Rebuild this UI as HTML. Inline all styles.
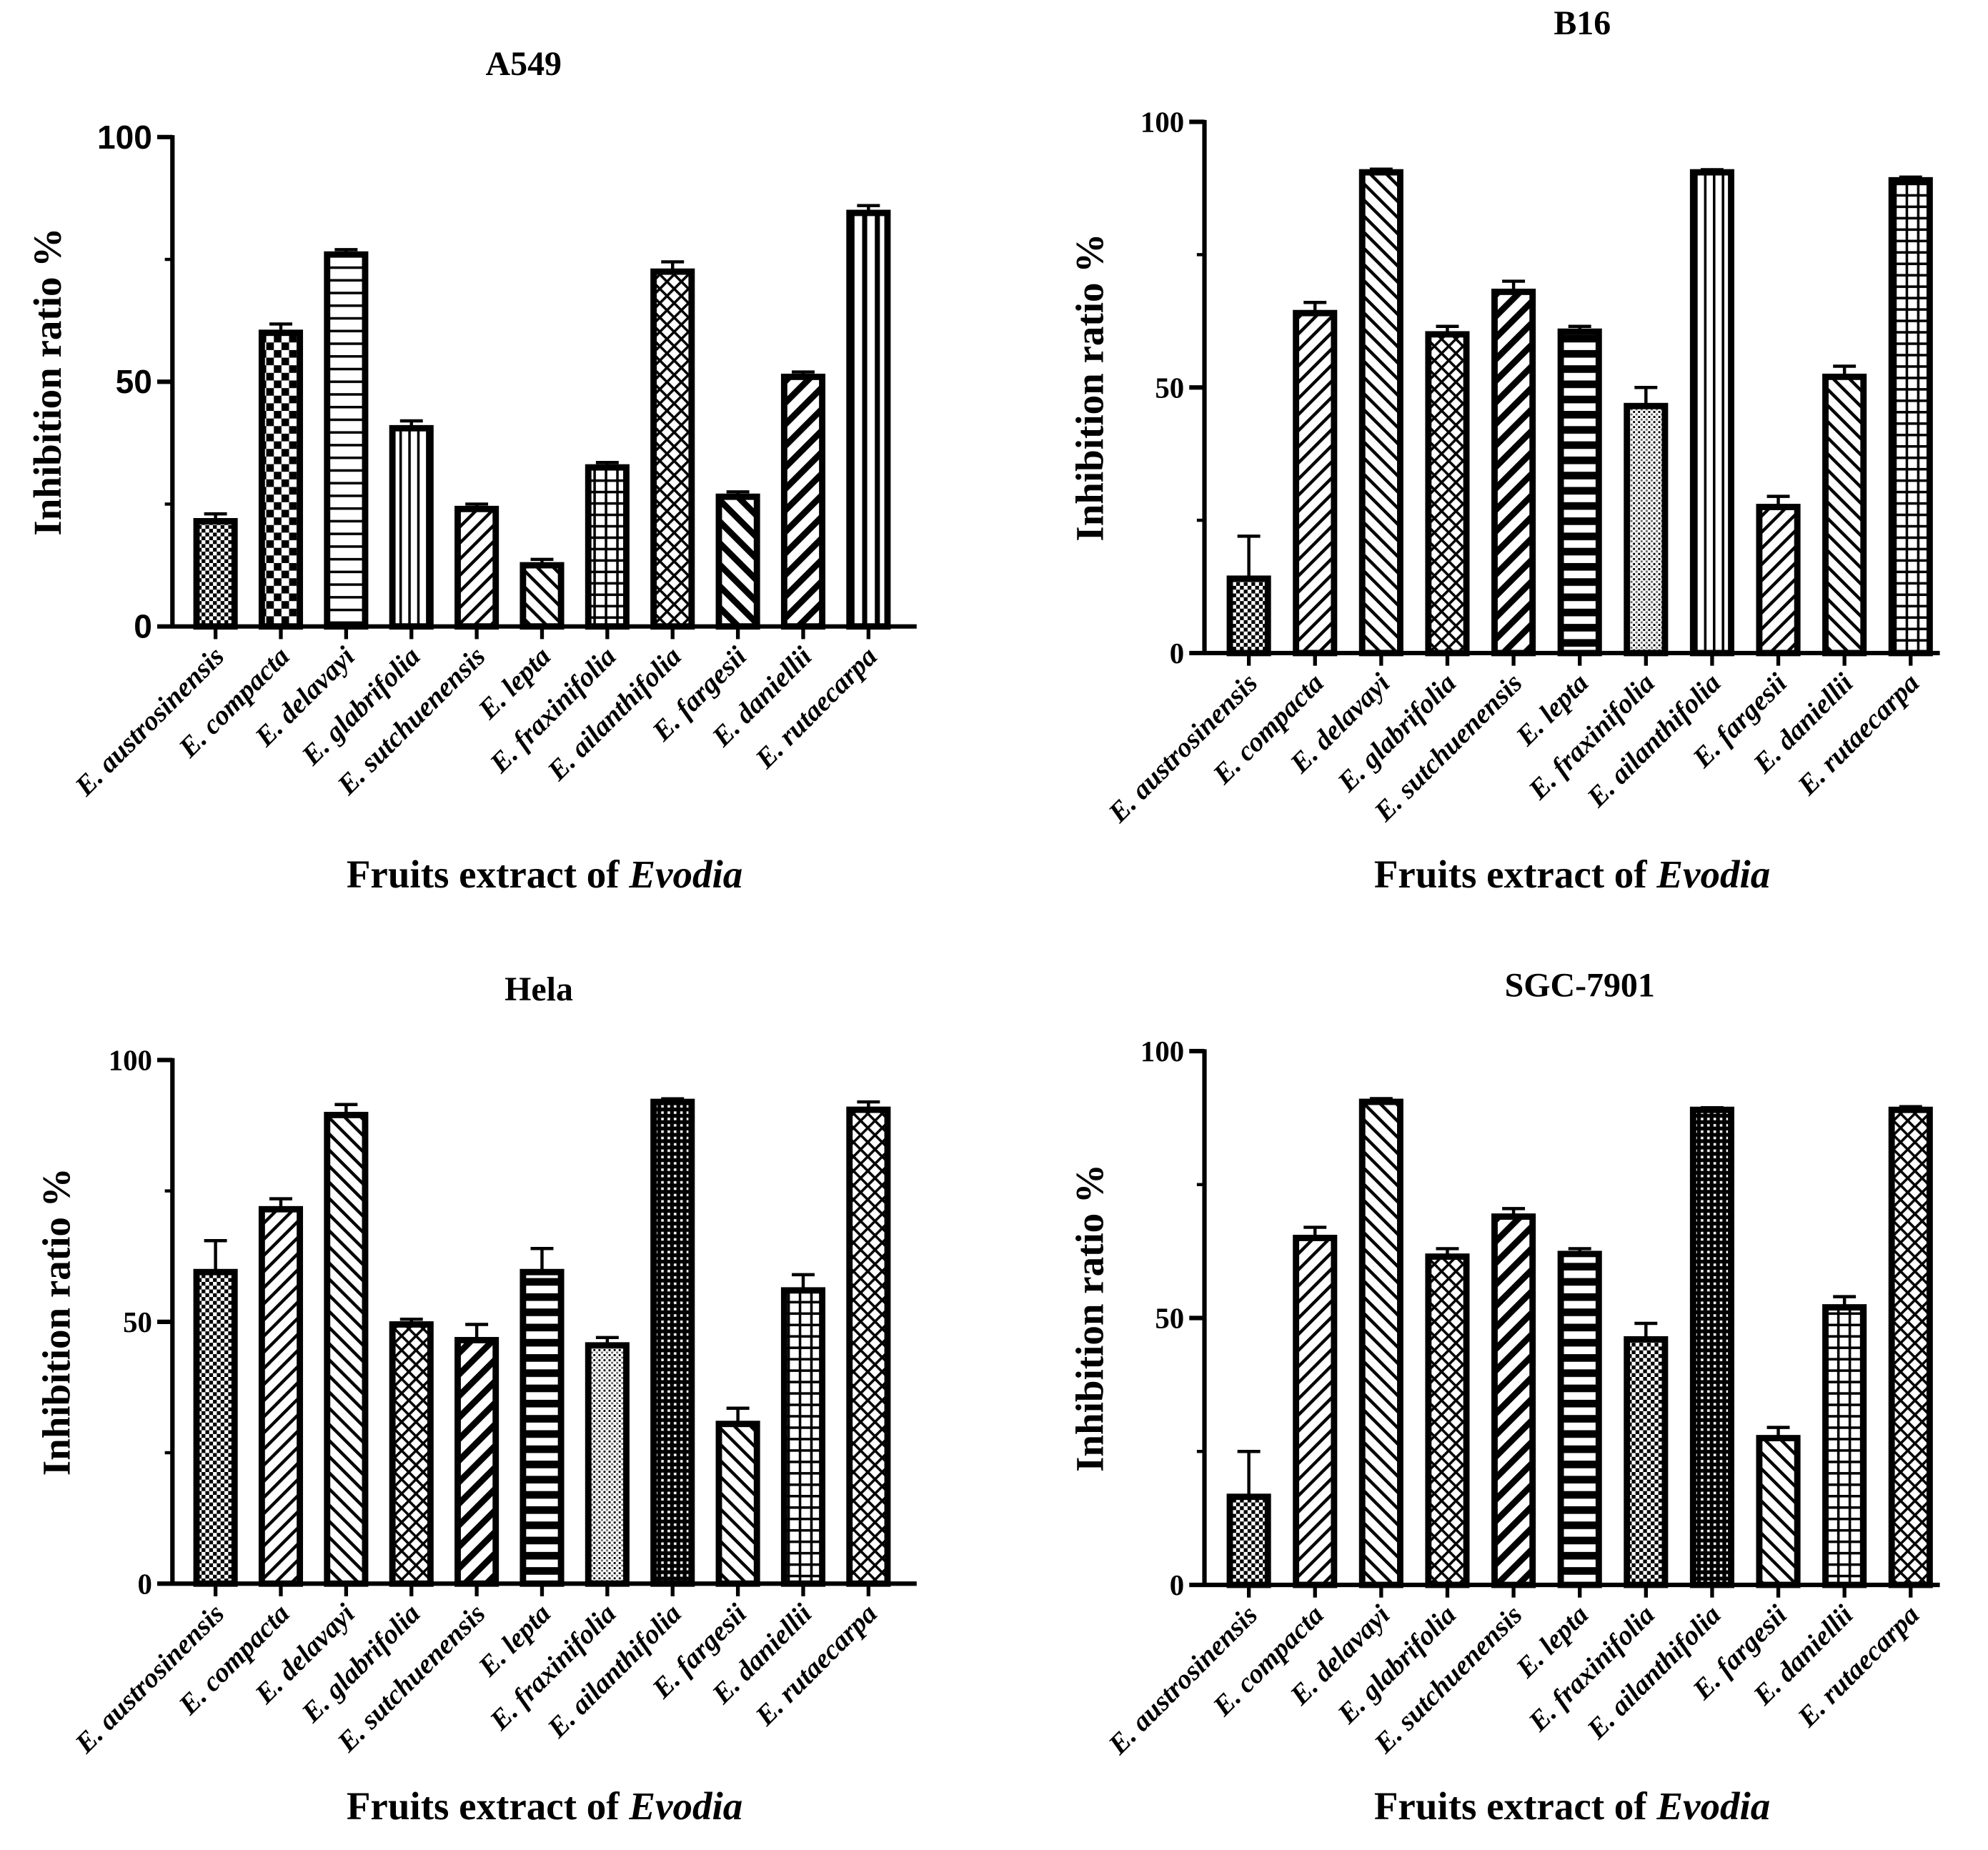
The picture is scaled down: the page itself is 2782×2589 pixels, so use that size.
<!DOCTYPE html>
<html><head><meta charset="utf-8"><style>
html,body{margin:0;padding:0;background:#fff}
svg{display:block}
</style></head><body>
<svg id="fig" xmlns="http://www.w3.org/2000/svg" width="2782" height="2589" viewBox="0 0 1568 1459">
<defs>
<pattern id="p-check-s" width="6" height="6" patternUnits="userSpaceOnUse"><rect width="6" height="6" fill="#fff"/><rect width="3" height="3" fill="#000"/><rect x="3" y="3" width="3" height="3" fill="#000"/></pattern>
<pattern id="p-check-b" width="12" height="12" patternUnits="userSpaceOnUse"><rect width="12" height="12" fill="#fff"/><rect width="6" height="6" fill="#000"/><rect x="6" y="6" width="6" height="6" fill="#000"/></pattern>
<pattern id="p-hline" width="8" height="10" patternUnits="userSpaceOnUse"><rect width="8" height="10" fill="#fff"/><rect y="0" width="8" height="2" fill="#000"/></pattern>
<pattern id="p-hline-t" width="8" height="12" patternUnits="userSpaceOnUse"><rect width="8" height="12" fill="#fff"/><rect y="0" width="8" height="6" fill="#000"/></pattern>
<pattern id="p-vline" width="7" height="8" patternUnits="userSpaceOnUse"><rect width="7" height="8" fill="#fff"/><rect width="2" height="8" fill="#000"/></pattern>
<pattern id="p-vline-w" width="10" height="8" patternUnits="userSpaceOnUse"><rect width="10" height="8" fill="#fff"/><rect width="4" height="8" fill="#000"/></pattern>
<pattern id="p-diag-r" width="9" height="9" patternUnits="userSpaceOnUse" patternTransform="rotate(45)"><rect width="9" height="9" fill="#fff"/><rect width="2.5" height="9" fill="#000"/></pattern>
<pattern id="p-diag-l" width="9" height="9" patternUnits="userSpaceOnUse" patternTransform="rotate(-45)"><rect width="9" height="9" fill="#fff"/><rect width="2.5" height="9" fill="#000"/></pattern>
<pattern id="p-diag-rt" width="12" height="12" patternUnits="userSpaceOnUse" patternTransform="rotate(45)"><rect width="12" height="12" fill="#fff"/><rect width="5" height="12" fill="#000"/></pattern>
<pattern id="p-diag-lt" width="12" height="12" patternUnits="userSpaceOnUse" patternTransform="rotate(-45)"><rect width="12" height="12" fill="#fff"/><rect width="5" height="12" fill="#000"/></pattern>
<pattern id="p-grid" width="9" height="9" patternUnits="userSpaceOnUse"><rect width="9" height="9" fill="#fff"/><rect width="2" height="9" fill="#000"/><rect width="9" height="2" fill="#000"/></pattern>
<pattern id="p-grid-d" width="5" height="5" patternUnits="userSpaceOnUse"><rect width="5" height="5" fill="#000"/><rect x="1.5" y="1.5" width="2" height="2" fill="#fff"/></pattern>
<pattern id="p-cross" width="8" height="8" patternUnits="userSpaceOnUse" patternTransform="rotate(45)"><rect width="8" height="8" fill="#fff"/><rect width="2" height="8" fill="#000"/><rect width="8" height="2" fill="#000"/></pattern>
<pattern id="p-dots" width="4" height="4" patternUnits="userSpaceOnUse"><rect width="4" height="4" fill="#fff"/><rect width="1.6" height="1.6" fill="#000"/><rect x="2" y="2" width="1.6" height="1.6" fill="#666"/></pattern>
</defs>
</svg>
<script>
var categories = ["E. austrosinensis","E. compacta","E. delavayi","E. glabrifolia","E. sutchuenensis","E. lepta","E. fraxinifolia","E. ailanthifolia","E. fargesii","E. daniellii","E. rutaecarpa"];
var yTicks = [0, 50, 100];
var a549Values = [21.5, 60, 76, 40.5, 24, 12.5, 32.5, 72.5, 26.5, 51, 84.5];
var a549Err = [1.5, 1.8, 1, 1.5, 1, 1.2, 1, 2, 1, 1, 1.5];
var b16Values = [14, 64, 90.5, 60, 68, 60.5, 46.5, 90.5, 27.5, 52, 89];
var b16Err = [8, 2, 0.6, 1.5, 2, 1, 3.5, 0.5, 2, 2, 0.6];
var helaValues = [59.5, 71.5, 89.5, 49.5, 46.5, 59.5, 45.5, 92, 30.5, 56, 90.5];
var helaErr = [6, 2, 2, 1, 3, 4.5, 1.5, 0.6, 3, 3, 1.5];
var sgcValues = [16.5, 65, 90.5, 61.5, 69, 62, 46, 89, 27.5, 52, 89];
var sgcErr = [8.5, 2, 0.6, 1.5, 1.5, 1, 3, 0.4, 2, 2, 0.6];

var NS = "http://www.w3.org/2000/svg";
var svg = document.getElementById("fig");
function mk(tag, attrs, parent){ var e=document.createElementNS(NS,tag); for(var k in attrs) e.setAttribute(k,attrs[k]); (parent||svg).appendChild(e); return e; }

var panels = [
 {key:"a549", title:"A549", tx:413, ty:59, ax:136, top:108, bottom:494, right:723, c0:170, step:51.5, vals:a549Values, err:a549Err, tickFont:"Liberation Sans", ytx:48, xty:700,
  pats:["p-check-s","p-check-b","p-hline","p-vline","p-diag-r","p-diag-l","p-grid","p-cross","p-diag-lt","p-diag-rt","p-vline-w"]},
 {key:"b16", title:"B16", tx:1248, ty:27, ax:950, top:96, bottom:515, right:1530, c0:985, step:52.2, vals:b16Values, err:b16Err, tickFont:"Liberation Serif", ytx:870, xty:700,
  pats:["p-check-s","p-diag-r","p-diag-l","p-cross","p-diag-rt","p-hline-t","p-dots","p-vline","p-diag-r","p-diag-l","p-grid"]},
 {key:"hela", title:"Hela", tx:425, ty:789, ax:136, top:836, bottom:1249, right:723, c0:170, step:51.5, vals:helaValues, err:helaErr, tickFont:"Liberation Serif", ytx:55, xty:1435,
  pats:["p-check-s","p-diag-r","p-diag-l","p-cross","p-diag-rt","p-hline-t","p-dots","p-grid-d","p-diag-l","p-grid","p-cross"]},
 {key:"sgc", title:"SGC-7901", tx:1246, ty:786, ax:950, top:829, bottom:1250, right:1530, c0:985, step:52.2, vals:sgcValues, err:sgcErr, tickFont:"Liberation Serif", ytx:870, xty:1435,
  pats:["p-check-s","p-diag-r","p-diag-l","p-cross","p-diag-rt","p-hline-t","p-check-s","p-grid-d","p-diag-l","p-grid","p-cross"]}
];

panels.forEach(function(p){
  var g = mk("g",{});
  
  
  function yScale(v){ return p.bottom - (v/100)*(p.bottom - p.top); }
  function xScale(i){ return p.c0 + i*p.step; }
  var t = mk("text",{x:p.tx,y:p.ty,"text-anchor":"middle","font-family":"Liberation Serif, serif","font-weight":"bold","font-size":27},g);
  t.textContent = p.title;
  
  
  p.vals.forEach(function(v,i){
    var cx = xScale(i), w = 30;
    var yv = yScale(v), ye = yScale(v + p.err[i]);
    var eb = mk("path",{d:"M"+cx+" "+yv+"V"+ye+"M"+(cx-9)+" "+ye+"H"+(cx+9),stroke:"#000","stroke-width":2.5,fill:"none"},g);
    
    
    var r = mk("rect",{x:cx-w/2,y:yv,width:w,height:p.bottom-yv,fill:"url(#"+p.pats[i]+")",stroke:"#000","stroke-width":5},g);
    
    
    var tk = mk("line",{x1:cx,y1:p.bottom,x2:cx,y2:p.bottom+10,stroke:"#000","stroke-width":3},g);
    
    
    var lx = cx+8, ly = p.bottom+25;
    var lb = mk("text",{x:lx,y:ly,"text-anchor":"end","font-family":"Liberation Serif, serif","font-weight":"bold","font-style":"italic","font-size":22,transform:"rotate(-45 "+lx+" "+ly+")"},g);
    lb.textContent = categories[i];
    
    
  });
  var ya = mk("line",{x1:p.ax,y1:p.top-1.5,x2:p.ax,y2:p.bottom+1.5,stroke:"#000","stroke-width":3.5},g);
  
  
  var xa = mk("line",{x1:p.ax,y1:p.bottom,x2:p.right,y2:p.bottom,stroke:"#000","stroke-width":3.5},g);
  
  
  [25,75].forEach(function(v){
    var mt = mk("line",{x1:p.ax-6,y1:yScale(v),x2:p.ax,y2:yScale(v),stroke:"#000","stroke-width":2.5},g);
    
    
  });
  yTicks.forEach(function(v){
    var yt = mk("line",{x1:p.ax-12,y1:yScale(v),x2:p.ax,y2:yScale(v),stroke:"#000","stroke-width":3.5},g);
    
    
    var sans = p.tickFont=="Liberation Sans";
    var tl = mk("text",{x:p.ax-16,y:yScale(v)+(sans?9:8),"text-anchor":"end","font-family":p.tickFont+", sans-serif","font-weight":"bold","font-size":sans?26:23},g);
    tl.textContent = v;
    
    
  });
  var cy = (p.top+p.bottom)/2;
  var yt2 = mk("text",{x:p.ytx,y:cy,"text-anchor":"middle","font-family":"Liberation Serif, serif","font-weight":"bold","font-size":31,transform:"rotate(-90 "+p.ytx+" "+cy+")"},g);
  yt2.textContent = "Inhibition ratio %";
  
  
  var xt = mk("text",{x:(p.ax+p.right)/2,y:p.xty,"text-anchor":"middle","font-family":"Liberation Serif, serif","font-weight":"bold","font-size":31},g);
  xt.innerHTML = 'Fruits extract of <tspan font-style="italic">Evodia</tspan>';
  
  
});
</script>
</body></html>
